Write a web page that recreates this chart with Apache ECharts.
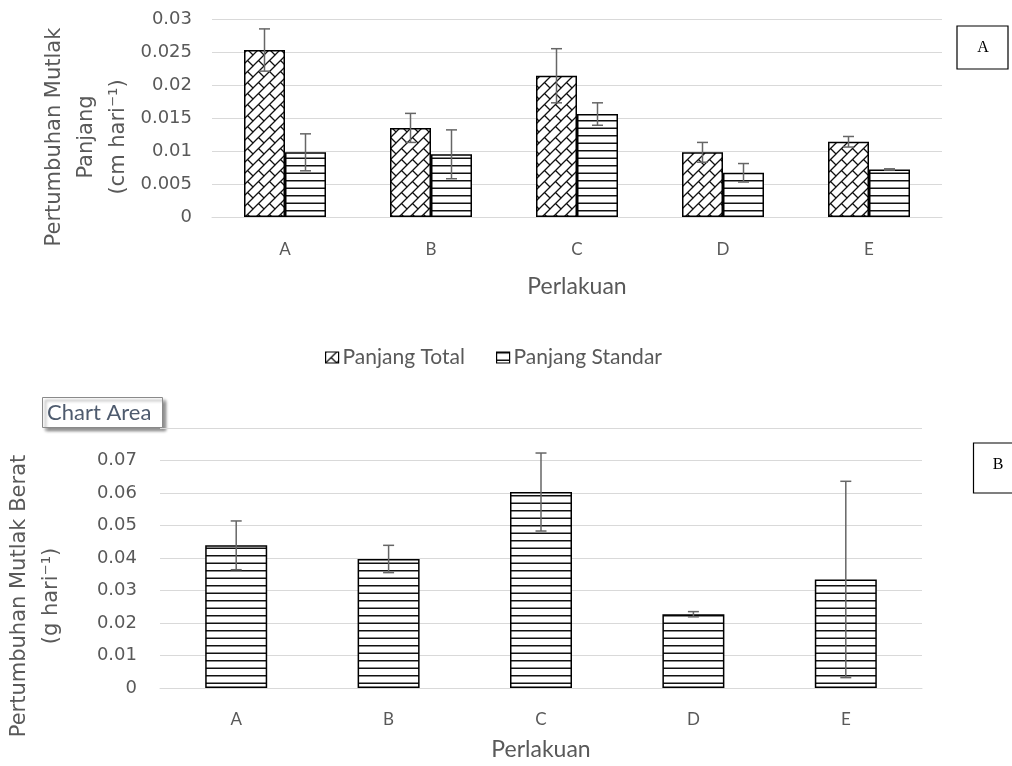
<!DOCTYPE html>
<html>
<head>
<meta charset="utf-8">
<title>Pertumbuhan Mutlak</title>
<script src="https://cdn.jsdelivr.net/npm/echarts@6/dist/echarts.min.js"></script>
<style>
  html, body { margin: 0; padding: 0; background: #ffffff; }
  #chart { width: 1012px; height: 766px; }
</style>
</head>
<body>
<div id="chart"></div>
<script>
// Treatments (Perlakuan)
const categories = ['A', 'B', 'C', 'D', 'E'];

// Panel A: absolute length growth (cm hari-1), mean and error
const panjangTotal = [0.0253, 0.0135, 0.0214, 0.0098, 0.0114];
const panjangTotalErr = [0.0032, 0.0022, 0.0041, 0.0015, 0.0008];
const panjangStandar = [0.0098, 0.0095, 0.0156, 0.0067, 0.0072];
const panjangStandarErr = [0.0028, 0.0037, 0.0017, 0.0014, 0.0001];

// Panel B: absolute weight growth (g hari-1), mean and error
const berat = [0.0439, 0.0397, 0.0603, 0.0227, 0.0334];
const beratErr = [0.0075, 0.0042, 0.0120, 0.0008, 0.0302];

const seriesNames = ['Panjang Total', 'Panjang Standar'];

// Fill patterns: diagonal brick and horizontal stripes
function brickPattern() {
  const c = document.createElement('canvas');
  const s = 11;
  c.width = s; c.height = s;
  const g = c.getContext('2d');
  g.fillStyle = '#ffffff';
  g.fillRect(0, 0, s, s);
  g.strokeStyle = '#111111';
  g.lineWidth = 1.3;
  g.beginPath();
  g.moveTo(-1, s + 1); g.lineTo(s + 1, -1);
  g.moveTo(s / 2, s / 2); g.lineTo(s + 1, s + 1);
  g.moveTo(-1, -1); g.lineTo(0.5, 0.5);
  g.stroke();
  return c;
}
function stripePattern() {
  const c = document.createElement('canvas');
  c.width = 4; c.height = 15;
  const g = c.getContext('2d');
  g.fillStyle = '#ffffff';
  g.fillRect(0, 0, 4, 15);
  g.fillStyle = '#111111';
  g.fillRect(0, 0, 4, 1.5);
  g.fillRect(0, 7.5, 4, 1.5);
  return c;
}
const brickFill = { image: brickPattern(), repeat: 'repeat' };
const stripeFill = { image: stripePattern(), repeat: 'repeat' };

const tickFont = { color: '#595959', fontSize: 18, fontFamily: 'DejaVu Sans' };
const catFont = { color: '#595959', fontSize: 17, fontFamily: 'Lato' };
const nameFont = { color: '#595959', fontSize: 23, fontFamily: 'Lato' };
const gridLine = { lineStyle: { color: '#d9d9d9', width: 1 } };

// Error bar drawn from mean +/- err, shifted sideways to the bar's centre
function errorBars(means, errs, xAxisIndex, yAxisIndex, shift) {
  const data = means.map((m, i) => [i, m - errs[i], m + errs[i]]);
  return {
    type: 'custom',
    xAxisIndex, yAxisIndex,
    z: 10,
    silent: true,
    data,
    renderItem(params, api) {
      const lo = api.coord([api.value(0), api.value(1)]);
      const hi = api.coord([api.value(0), api.value(2)]);
      const x = lo[0] + shift;
      const cap = 5.5;
      const style = { stroke: '#666666', lineWidth: 1.5 };
      return {
        type: 'group',
        children: [
          { type: 'line', shape: { x1: x, y1: lo[1], x2: x, y2: hi[1] }, style },
          { type: 'line', shape: { x1: x - cap, y1: hi[1], x2: x + cap, y2: hi[1] }, style },
          { type: 'line', shape: { x1: x - cap, y1: lo[1], x2: x + cap, y2: lo[1] }, style }
        ]
      };
    }
  };
}

function titleText(text, x, y, size) {
  return {
    type: 'text', x, y, rotation: Math.PI / 2, z: 5,
    style: {
      text, fill: '#595959', font: size + 'px "DejaVu Sans"',
      align: 'center', verticalAlign: 'middle', lineHeight: 32
    }
  };
}

const barBorder = { borderColor: '#000000', borderWidth: 1.5 };

const option = {
  animation: false,
  backgroundColor: '#ffffff',
  grid: [
    { left: 212, right: 70, top: 19, height: 198 },
    { left: 160, right: 90, top: 428, height: 260 }
  ],
  xAxis: [
    {
      gridIndex: 0, type: 'category', data: categories,
      axisLine: gridLine, axisTick: { show: false },
      axisLabel: Object.assign({ margin: 24 }, catFont),
      name: 'Perlakuan', nameLocation: 'middle', nameGap: 58,
      nameTextStyle: nameFont
    },
    {
      gridIndex: 1, type: 'category', data: categories,
      axisLine: gridLine, axisTick: { show: false },
      axisLabel: Object.assign({ margin: 23 }, catFont),
      name: 'Perlakuan', nameLocation: 'middle', nameGap: 50,
      nameTextStyle: nameFont
    }
  ],
  yAxis: [
    {
      gridIndex: 0, type: 'value', min: 0, max: 0.03, interval: 0.005,
      axisLine: { show: false }, axisTick: { show: false },
      splitLine: gridLine,
      axisLabel: Object.assign({ margin: 20 }, tickFont)
    },
    {
      gridIndex: 1, type: 'value', min: 0, max: 0.08, interval: 0.01,
      axisLine: { show: false }, axisTick: { show: false },
      splitLine: gridLine,
      axisLabel: Object.assign({ margin: 23, showMaxLabel: false }, tickFont)
    }
  ],
  legend: {
    data: seriesNames,
    left: 320, top: 342,
    itemWidth: 13, itemHeight: 11, itemGap: 31,
    icon: 'rect',
    itemStyle: { borderColor: '#000000', borderWidth: 1.2 },
    textStyle: { color: '#595959', fontSize: 21, fontFamily: 'Lato', padding: [0, 0, 0, -1] }
  },
  series: [
    {
      name: seriesNames[0], type: 'bar', xAxisIndex: 0, yAxisIndex: 0,
      data: panjangTotal, barWidth: 41, barGap: '0%',
      itemStyle: Object.assign({ color: brickFill }, barBorder)
    },
    {
      name: seriesNames[1], type: 'bar', xAxisIndex: 0, yAxisIndex: 0,
      data: panjangStandar, barWidth: 41, barGap: '0%',
      itemStyle: Object.assign({ color: stripeFill }, barBorder)
    },
    errorBars(panjangTotal, panjangTotalErr, 0, 0, -20.5),
    errorBars(panjangStandar, panjangStandarErr, 0, 0, 20.5),
    {
      name: 'Berat', type: 'bar', xAxisIndex: 1, yAxisIndex: 1,
      data: berat, barWidth: 62,
      itemStyle: Object.assign({ color: stripeFill }, barBorder)
    },
    errorBars(berat, beratErr, 1, 1, 0)
  ],
  graphic: [
    titleText('Pertumbuhan Mutlak\nPanjang\n(cm hari⁻¹)', 87, 137, 21),
    titleText('Pertumbuhan Mutlak Berat\n(g hari⁻¹)', 36, 596, 21),
    // Panel tags
    {
      type: 'group', z: 20,
      children: [
        { type: 'rect', shape: { x: 957, y: 26, width: 51, height: 43 },
          style: { fill: '#ffffff', stroke: '#000000', lineWidth: 1.2 } },
        { type: 'text', x: 983, y: 48,
          style: { text: 'A', fill: '#000000', font: '16px "Liberation Serif"', align: 'center', verticalAlign: 'middle' } }
      ]
    },
    {
      type: 'group', z: 20,
      children: [
        { type: 'rect', shape: { x: 973.5, y: 443, width: 60, height: 50 },
          style: { fill: '#ffffff', stroke: '#000000', lineWidth: 1.2 } },
        { type: 'text', x: 998, y: 465,
          style: { text: 'B', fill: '#000000', font: '16px "Liberation Serif"', align: 'center', verticalAlign: 'middle' } }
      ]
    },
    // Selection label over the lower chart
    {
      type: 'group', z: 30,
      children: [
        { type: 'rect', shape: { x: 42.5, y: 397.5, width: 120, height: 30 },
          style: { fill: '#ffffff', stroke: '#8a8a8a', lineWidth: 1,
                   shadowColor: 'rgba(0,0,0,0.45)', shadowBlur: 3, shadowOffsetX: 3, shadowOffsetY: 3 } },
        { type: 'text', x: 47, y: 413,
          style: { text: 'Chart Area', fill: '#4e5b6e', font: '22px Lato', align: 'left', verticalAlign: 'middle' } }
      ]
    }
  ]
};

const chart = echarts.init(document.getElementById('chart'), null, { renderer: 'canvas' });
chart.setOption(option);
</script>
</body>
</html>
